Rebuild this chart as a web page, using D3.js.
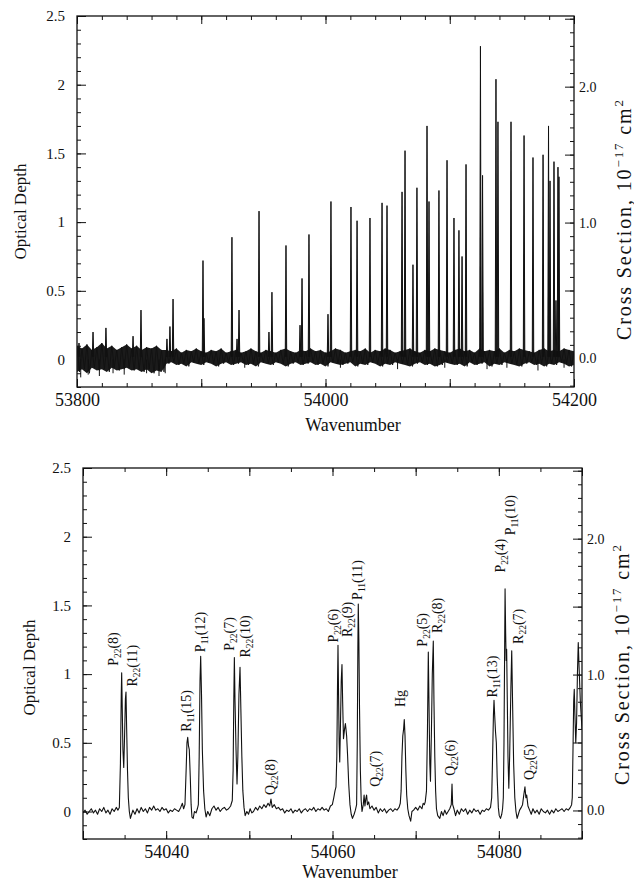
<!DOCTYPE html>
<html>
<head>
<meta charset="utf-8">
<script src="https://cdn.jsdelivr.net/npm/d3@7"></script>
<style>
  html, body { margin: 0; background: #fff; }
  svg { display: block; font-family: "Liberation Serif", "DejaVu Serif", serif; }
  .tick line { stroke: #111; stroke-width: 1; }
</style>
</head>
<body>
<svg id="fig" width="634" height="883"></svg>
<script>
// Absorption spectrum, two panels. (estimates).

// --- top panel: 53800-54200 survey, line peaks (wavenumber, optical depth) ---
const topLineWn = [53801.6, 53812.9, 53823.3, 53845.1, 53851.5, 53872.4, 53874.8, 53877.3,
  53901.4, 53902.2, 53924.7, 53928.8, 53930.4, 53946.5, 53954.5, 53956.9, 53968.2, 53979.5,
  53981.1, 53986.7, 54002.0, 54004.4, 54020.5, 54025.4, 54035.8, 54045.5, 54049.5, 54061.6,
  54064.0, 54070.4, 54073.6, 54081.7, 54083.3, 54091.3, 54097.8, 54103.4, 54107.4, 54109.9,
  54113.1, 54124.7, 54126.4, 54137.2, 54138.8, 54149.3, 54159.8, 54167.0, 54175.1, 54179.5,
  54180.7, 54183.9, 54185.5, 54187.1, 54187.9];
const topLineTau = [0.12, 0.20, 0.23, 0.17, 0.36, 0.15, 0.24, 0.44,
  0.72, 0.30, 0.89, 0.15, 0.36, 1.08, 0.20, 0.49, 0.83, 0.25,
  0.59, 0.91, 0.33, 1.15, 1.11, 1.01, 1.03, 1.14, 1.12, 1.22,
  1.52, 0.69, 1.25, 1.70, 1.15, 1.23, 1.45, 1.03, 0.94, 0.75,
  1.42, 2.28, 1.34, 2.04, 1.73, 1.73, 1.63, 1.47, 1.49, 1.70,
  1.30, 1.44, 0.43, 1.40, 1.33];

// baseline noise envelope of the top trace, sampled every 4 cm-1 from 53800
const topNoiseStart = 53800;
const topNoiseStep = 4;
const topNoiseHi = [0.10, 0.08, 0.11, 0.07, 0.09, 0.12, 0.08, 0.10, 0.07, 0.09, 0.11, 0.08, 0.10, 0.07, 0.09, 0.08, 0.10, 0.07,
  0.07, 0.06, 0.08, 0.05, 0.07, 0.06, 0.08, 0.06, 0.05, 0.07,
  0.06, 0.08, 0.05, 0.06, 0.07, 0.05, 0.06, 0.08, 0.06, 0.05,
  0.07, 0.06, 0.05, 0.07, 0.08, 0.06, 0.05, 0.07, 0.06, 0.08,
  0.06, 0.07, 0.05, 0.06, 0.08, 0.07, 0.05, 0.06, 0.07, 0.06,
  0.08, 0.05, 0.07, 0.06, 0.08, 0.07, 0.05, 0.06, 0.07, 0.08,
  0.06, 0.05, 0.07, 0.06, 0.08, 0.07, 0.06, 0.05, 0.07, 0.08,
  0.06, 0.07, 0.05, 0.08, 0.06, 0.07, 0.06, 0.08, 0.05, 0.07,
  0.06, 0.08, 0.07, 0.06, 0.05, 0.07, 0.08, 0.06, 0.07, 0.06,
  0.08, 0.07, 0.06];
const topNoiseLo = [-0.09, -0.07, -0.10, -0.06, -0.08, -0.07, -0.09, -0.06, -0.08, -0.07, -0.06, -0.08, -0.07, -0.09, -0.07, -0.10, -0.08, -0.09,
  -0.03, -0.02, -0.04, -0.03, -0.05, -0.02, -0.03, -0.04, -0.02, -0.03,
  -0.05, -0.03, -0.02, -0.04, -0.03, -0.02, -0.04, -0.03, -0.05, -0.02,
  -0.03, -0.04, -0.02, -0.03, -0.05, -0.03, -0.02, -0.04, -0.03, -0.02,
  -0.04, -0.03, -0.05, -0.02, -0.03, -0.04, -0.03, -0.02, -0.05, -0.03,
  -0.04, -0.02, -0.03, -0.05, -0.03, -0.04, -0.02, -0.03, -0.04, -0.05,
  -0.03, -0.02, -0.04, -0.03, -0.05, -0.04, -0.02, -0.03, -0.04, -0.03,
  -0.05, -0.02, -0.04, -0.03, -0.02, -0.05, -0.03, -0.04, -0.02, -0.03,
  -0.04, -0.05, -0.03, -0.02, -0.04, -0.03, -0.05, -0.03, -0.04, -0.02,
  -0.03, -0.05, -0.04];
// occasional downward noise spikes in the top trace
const topDipWn = [53803, 53809, 53818, 53829, 53838, 53856, 53866, 53871, 53935, 54012, 54058, 54096, 54130, 54146, 54171, 54192];
const topDipTau = [-0.13, -0.11, -0.12, -0.10, -0.11, -0.10, -0.12, -0.10, -0.06, -0.06, -0.07, -0.06, -0.07, -0.06, -0.08, -0.06];

// --- bottom panel: 54030-54090 detail, trace vertices [wavenumber, optical depth] ---
const botTrace = [
  [54030.00, -0.01], [54030.25, 0.01], [54030.50, -0.02], [54030.75, 0.00], [54031.00, 0.02], [54031.25, -0.01],
  [54031.50, 0.01], [54031.75, -0.02], [54032.00, 0.02], [54032.25, 0.00], [54032.50, 0.03], [54032.75, -0.01],
  [54033.00, 0.01], [54033.25, -0.02], [54033.50, 0.02], [54033.75, 0.00], [54034.00, 0.03], [54034.20, 0.01],
  [54034.37, 0.03], [54034.50, 0.35], [54034.60, 0.85], [54034.65, 1.01], [54034.72, 0.75], [54034.80, 0.45],
  [54034.90, 0.32], [54035.00, 0.55], [54035.10, 0.82], [54035.17, 0.87], [54035.25, 0.60], [54035.35, 0.30],
  [54035.45, 0.10], [54035.57, 0.00], [54035.70, -0.05], [54035.85, -0.02],
  [54036.00, 0.01], [54036.25, -0.02], [54036.50, 0.02], [54036.75, -0.01], [54037.00, 0.03], [54037.25, 0.00],
  [54037.50, 0.02], [54037.75, -0.01], [54038.00, 0.03], [54038.25, 0.01], [54038.50, 0.04], [54038.75, 0.01],
  [54039.00, 0.02], [54039.25, 0.00], [54039.50, 0.03], [54039.75, 0.01], [54040.00, 0.02], [54040.25, -0.01],
  [54040.50, 0.01], [54040.75, 0.00], [54041.00, 0.02], [54041.25, 0.01], [54041.50, 0.00], [54041.75, 0.03],
  [54041.95, 0.06], [54042.10, 0.02],
  [54042.26, 0.05], [54042.40, 0.30], [54042.50, 0.50], [54042.59, 0.54], [54042.68, 0.48], [54042.78, 0.45],
  [54042.90, 0.25], [54043.00, 0.05], [54043.10, -0.04], [54043.25, -0.05], [54043.40, 0.00], [54043.60, -0.01],
  [54043.75, 0.02],
  [54043.87, 0.05], [54043.97, 0.40], [54044.07, 0.95], [54044.15, 1.13], [54044.25, 0.85], [54044.35, 0.45],
  [54044.50, 0.15], [54044.65, 0.02], [54044.80, -0.04],
  [54045.00, 0.00], [54045.25, -0.03], [54045.50, 0.02], [54045.75, 0.04], [54046.00, 0.01], [54046.25, 0.03],
  [54046.50, 0.00], [54046.75, 0.02], [54047.00, 0.03], [54047.25, 0.01], [54047.50, 0.02], [54047.75, 0.04],
  [54047.95, 0.08],
  [54048.05, 0.30], [54048.13, 0.80], [54048.20, 1.12], [54048.28, 0.80], [54048.40, 0.45], [54048.52, 0.20],
  [54048.62, 0.40], [54048.75, 0.85], [54048.88, 1.05], [54048.98, 0.75], [54049.10, 0.40], [54049.22, 0.15],
  [54049.36, 0.03], [54049.50, -0.03], [54049.70, 0.00],
  [54049.90, -0.02], [54050.10, 0.02], [54050.30, -0.01], [54050.50, 0.00], [54050.75, 0.03], [54051.00, 0.01],
  [54051.25, 0.04], [54051.50, 0.02], [54051.75, 0.05], [54052.00, 0.03], [54052.25, 0.06], [54052.45, 0.04],
  [54052.60, 0.09], [54052.75, 0.03], [54053.00, 0.05], [54053.25, 0.02], [54053.50, 0.03], [54053.75, 0.01],
  [54054.00, 0.02], [54054.25, -0.01], [54054.50, 0.01], [54054.75, 0.00], [54055.00, 0.02], [54055.25, -0.01],
  [54055.50, 0.01], [54055.75, 0.00], [54056.00, 0.02], [54056.25, -0.01], [54056.50, 0.01], [54056.75, 0.02],
  [54057.00, 0.00], [54057.25, 0.02], [54057.50, 0.01], [54057.75, 0.03], [54058.00, 0.00], [54058.25, 0.02],
  [54058.50, 0.01], [54058.75, 0.03], [54059.00, 0.01], [54059.25, 0.02], [54059.50, 0.00], [54059.75, 0.04],
  [54059.98, 0.05],
  [54060.15, 0.10], [54060.30, 0.15], [54060.42, 0.18], [54060.52, 0.40], [54060.60, 0.90], [54060.66, 1.21],
  [54060.73, 0.85], [54060.80, 0.50], [54060.87, 0.36], [54060.95, 0.60], [54061.05, 0.95], [54061.14, 1.07],
  [54061.22, 0.80], [54061.32, 0.53], [54061.45, 0.60], [54061.55, 0.64], [54061.62, 0.60], [54061.70, 0.55],
  [54061.82, 0.40], [54061.95, 0.20], [54062.10, 0.05], [54062.25, -0.02], [54062.40, -0.05], [54062.60, -0.02],
  [54062.75, 0.01],
  [54062.90, 0.05], [54062.98, 0.50], [54063.05, 1.20], [54063.10, 1.51], [54063.17, 1.25], [54063.25, 0.75],
  [54063.35, 0.30], [54063.45, 0.08], [54063.55, 0.00], [54063.70, 0.05], [54063.80, 0.12], [54063.90, 0.04],
  [54064.00, 0.09], [54064.10, 0.12], [54064.20, 0.05], [54064.35, 0.07], [54064.50, 0.02], [54064.75, 0.04],
  [54065.00, 0.01], [54065.25, 0.03], [54065.50, -0.01], [54065.75, 0.02], [54066.00, 0.00], [54066.25, 0.02],
  [54066.50, -0.01], [54066.75, 0.01], [54067.00, 0.02], [54067.25, 0.00], [54067.50, 0.02], [54067.75, 0.01],
  [54068.00, 0.03], [54068.15, 0.06],
  [54068.25, 0.15], [54068.35, 0.40], [54068.45, 0.55], [54068.55, 0.60], [54068.63, 0.67], [54068.72, 0.55],
  [54068.82, 0.30], [54068.92, 0.12], [54069.05, 0.02], [54069.20, -0.03], [54069.40, -0.07], [54069.55, 0.00],
  [54069.75, 0.01], [54070.00, 0.03], [54070.25, 0.01], [54070.50, 0.04], [54070.75, 0.02], [54070.90, 0.06],
  [54071.05, 0.05], [54071.15, 0.07],
  [54071.30, 0.15], [54071.42, 0.60], [54071.52, 1.16], [54071.60, 0.80], [54071.70, 0.35], [54071.78, 0.22],
  [54071.90, 0.60], [54072.00, 1.00], [54072.12, 1.24], [54072.20, 0.80], [54072.30, 0.40], [54072.40, 0.15],
  [54072.50, 0.02], [54072.65, -0.03], [54072.90, -0.05], [54073.10, 0.00], [54073.30, -0.03], [54073.50, 0.01],
  [54073.70, -0.02], [54073.90, 0.00], [54074.10, 0.02], [54074.28, 0.05], [54074.37, 0.20], [54074.45, 0.05],
  [54074.60, 0.02], [54074.80, -0.03], [54075.00, 0.01], [54075.25, -0.02], [54075.50, 0.02], [54075.75, 0.00],
  [54076.00, 0.02], [54076.25, -0.02], [54076.50, 0.01], [54076.75, -0.01], [54077.00, 0.02], [54077.25, 0.00],
  [54077.50, 0.01], [54077.75, -0.02], [54078.00, 0.01], [54078.25, 0.00], [54078.50, 0.02], [54078.75, 0.01],
  [54079.00, 0.03],
  [54079.14, 0.10], [54079.25, 0.40], [54079.35, 0.70], [54079.42, 0.81], [54079.50, 0.70], [54079.60, 0.58],
  [54079.70, 0.50], [54079.80, 0.25], [54079.94, 0.03], [54080.05, -0.03], [54080.20, -0.05], [54080.35, -0.02],
  [54080.45, 0.02],
  [54080.54, 0.10], [54080.62, 0.50], [54080.70, 1.20], [54080.75, 1.62], [54080.82, 1.30], [54080.88, 1.10],
  [54080.94, 1.18], [54081.02, 0.80], [54081.10, 0.40], [54081.20, 0.17], [54081.30, 0.40], [54081.45, 0.90],
  [54081.55, 1.17], [54081.65, 0.80], [54081.78, 0.35], [54081.92, 0.10], [54082.06, 0.00], [54082.20, -0.05],
  [54082.35, -0.02], [54082.50, 0.01], [54082.70, 0.03], [54082.85, 0.05], [54083.00, 0.12], [54083.14, 0.18],
  [54083.25, 0.10], [54083.35, 0.12], [54083.50, 0.04], [54083.70, 0.01], [54083.90, -0.02], [54084.10, 0.02],
  [54084.35, -0.01], [54084.60, 0.01], [54084.85, -0.02], [54085.10, 0.02], [54085.35, 0.00], [54085.60, -0.01],
  [54085.85, 0.01], [54086.10, -0.02], [54086.35, 0.01], [54086.60, -0.01], [54086.85, 0.02], [54087.10, 0.00],
  [54087.35, 0.01], [54087.60, 0.02], [54087.85, 0.00], [54088.10, 0.02], [54088.35, 0.01], [54088.60, 0.03],
  [54088.75, 0.05],
  [54088.83, 0.10], [54088.93, 0.50], [54089.00, 0.80], [54089.07, 0.89], [54089.15, 0.70], [54089.25, 0.50],
  [54089.35, 0.65], [54089.45, 1.00], [54089.55, 1.23], [54089.65, 1.05], [54089.80, 0.80], [54089.90, 0.70],
  [54090.00, 0.60]
];

// line assignments in the bottom panel, placed at the foot of each label
const labelBranch = ["P", "R", "R", "P", "P", "R", "Q", "P", "R", "P", "Q", "Hg", "P", "R", "Q", "R", "P", "P", "R", "Q"];
const labelSub = ["22", "22", "11", "11", "22", "22", "22", "22", "22", "11", "22", "", "22", "22", "22", "11", "22", "11", "22", "22"];
const labelJ = ["8", "11", "15", "12", "7", "10", "8", "6", "9", "11", "7", "", "5", "8", "6", "13", "4", "10", "7", "5"];
const labelWn = [54033.6, 54035.9, 54042.4, 54044.1, 54047.55, 54049.5, 54052.5, 54060.05, 54061.75, 54062.95,
  54065.1, 54068.1, 54070.75, 54072.55, 54074.15, 54079.2, 54080.15, 54081.35, 54082.3, 54083.65];
const labelTau = [1.06, 0.91, 0.58, 1.16, 1.17, 1.12, 0.12, 1.23, 1.27, 1.54,
  0.18, 0.76, 1.20, 1.30, 0.26, 0.83, 1.74, 2.01, 1.22, 0.23];

// axes
const tauMajor = [0, 0.5, 1, 1.5, 2, 2.5];
const crossMajor = [0, 0.5, 1, 1.5, 2, 2.5];
const crossLabelled = [0, 1, 2];
const topWnMajor = [53800, 53900, 54000, 54100, 54200];
const topWnLabelled = [53800, 54000, 54200];
const botWnMajor = [54030, 54040, 54050, 54060, 54070, 54080, 54090];
const botWnLabelled = [54040, 54060, 54080];

(function () {
  "use strict";
  const svg = d3.select("#fig");
  const ink = "#111";
  const serif = '"Liberation Serif", "DejaVu Serif", serif';

  function frame(p) {
    const g = svg.append("g");
    const x = d3.scaleLinear().domain(p.xDomain).range([p.left, p.right]);
    const y = d3.scaleLinear().domain([-0.2, 2.5]).range([p.bottom, p.top]);
    const yR = d3.scaleLinear().domain([-0.21, 2.52]).range([p.bottom, p.top]);

    const clipId = "clip" + p.id;
    svg.append("clipPath").attr("id", clipId).append("rect")
      .attr("x", p.left).attr("y", p.top)
      .attr("width", p.right - p.left).attr("height", p.bottom - p.top);

    const fmtSet = (vals, fmt) => (d) => (vals.some((v) => Math.abs(v - d) < 1e-9) ? fmt(d) : "");
    const tickStyle = (sel, size) => {
      sel.select(".domain").remove();
      sel.attr("font-family", serif).attr("font-size", size);
      sel.selectAll("text").attr("fill", ink);
    };

    // left axis: optical depth
    g.append("g").attr("transform", `translate(${p.left},0)`)
      .call(d3.axisLeft(y).tickValues(d3.range(-0.2, 2.51, 0.1)).tickSize(-4).tickFormat(""))
      .call((s) => tickStyle(s, 15));
    g.append("g").attr("transform", `translate(${p.left},0)`)
      .call(d3.axisLeft(y).tickValues(tauMajor).tickSize(-9).tickPadding(12).tickFormat(d3.format("")))
      .call((s) => tickStyle(s, 15));

    // right axis: cross section
    g.append("g").attr("transform", `translate(${p.right},0)`)
      .call(d3.axisRight(yR).tickValues(d3.range(-0.2, 2.51, 0.1)).tickSize(-4).tickFormat(""))
      .call((s) => tickStyle(s, 14));
    g.append("g").attr("transform", `translate(${p.right},0)`)
      .call(d3.axisRight(yR).tickValues(crossMajor).tickSize(-9).tickPadding(5)
        .tickFormat(fmtSet(crossLabelled, d3.format(".1f"))))
      .call((s) => tickStyle(s, 14));

    // bottom and top edges: wavenumber
    const minor = d3.range(p.xDomain[0], p.xDomain[1] + 0.01, p.minorStep);
    g.append("g").attr("transform", `translate(0,${p.bottom})`)
      .call(d3.axisBottom(x).tickValues(minor).tickSize(-4).tickFormat(""))
      .call((s) => tickStyle(s, 18));
    g.append("g").attr("transform", `translate(0,${p.bottom})`)
      .call(d3.axisBottom(x).tickValues(p.xMajor).tickSize(-8).tickPadding(6)
        .tickFormat(fmtSet(p.xLabelled, d3.format("d"))))
      .call((s) => tickStyle(s, 18));
    g.append("g").attr("transform", `translate(0,${p.top})`)
      .call(d3.axisTop(x).tickValues(minor).tickSize(-4).tickFormat(""))
      .call((s) => tickStyle(s, 18));
    g.append("g").attr("transform", `translate(0,${p.top})`)
      .call(d3.axisTop(x).tickValues(p.xMajor).tickSize(-8).tickFormat(""))
      .call((s) => tickStyle(s, 18));

    g.append("rect")
      .attr("x", p.left).attr("y", p.top)
      .attr("width", p.right - p.left).attr("height", p.bottom - p.top)
      .attr("fill", "none").attr("stroke", ink).attr("stroke-width", 1.3);

    // axis titles
    g.append("text")
      .attr("transform", `translate(${p.yTitleX},${(p.top + p.bottom) / 2 + p.yTitleShift}) rotate(-90)`)
      .attr("text-anchor", "middle").attr("dy", "0.35em")
      .style("font-size", "17px").attr("fill", ink).text("Optical Depth");

    const rt = g.append("text")
      .attr("transform", `translate(${p.rTitleX},${p.rTitleY}) rotate(-90)`)
      .attr("text-anchor", "middle").attr("dy", "0.35em")
      .attr("textLength", 240).attr("lengthAdjust", "spacing")
      .style("font-size", "20px").attr("fill", ink);
    rt.append("tspan").text("Cross Section, 10");
    rt.append("tspan").attr("dy", -8).style("font-size", "13px").text("\u221217");
    rt.append("tspan").attr("dy", 8).text(" cm");
    rt.append("tspan").attr("dy", -8).style("font-size", "13px").text("2");

    g.append("text")
      .attr("x", p.xTitleX).attr("y", p.bottom + p.xTitleDrop)
      .attr("text-anchor", "middle").style("font-size", "18px").attr("fill", ink)
      .text("Wavenumber");

    const plot = svg.append("g").attr("clip-path", `url(#${clipId})`);
    return { x, y, plot };
  }

  // ---------- top panel ----------
  const T = frame({
    id: "T", left: 77, right: 574, top: 16, bottom: 387,
    xDomain: [53800, 54200], xMajor: topWnMajor, xLabelled: topWnLabelled, minorStep: 20,
    yTitleX: 20, yTitleShift: 10, rTitleX: 624, rTitleY: 220, xTitleX: 353, xTitleDrop: 44,
  });
  const n = Math.min(topNoiseHi.length, topNoiseLo.length);
  const noise = d3.range(n).map((i) => ({
    wn: topNoiseStart + i * topNoiseStep, hi: topNoiseHi[i], lo: topNoiseLo[i],
  }));
  T.plot.append("path").datum(noise)
    .attr("d", d3.area().x((d) => T.x(d.wn)).y0((d) => T.y(d.lo)).y1((d) => T.y(d.hi)))
    .attr("fill", "#1b1b1b");
  // zig-zag between envelope samples gives the ragged edge of the noise band
  const zig = noise.flatMap((d) => [[d.wn, d.hi], [d.wn + topNoiseStep / 2, d.lo]]);
  T.plot.append("path").datum(zig)
    .attr("d", d3.line().x((d) => T.x(d[0])).y((d) => T.y(d[1])))
    .attr("fill", "none").attr("stroke", ink).attr("stroke-width", 0.9);
  T.plot.selectAll("line.dip").data(topDipWn).enter().append("line")
    .attr("x1", (d) => T.x(d)).attr("x2", (d) => T.x(d))
    .attr("y1", T.y(0)).attr("y2", (d, i) => T.y(topDipTau[i]))
    .attr("stroke", ink).attr("stroke-width", 1);
  const spike = d3.line().x((d) => T.x(d[0])).y((d) => T.y(d[1]));
  T.plot.selectAll("path.line").data(topLineWn).enter().append("path")
    .attr("d", (d, i) => spike([[d - 0.6, 0.02], [d, topLineTau[i]], [d + 0.6, 0.02]]))
    .attr("fill", ink).attr("stroke", ink).attr("stroke-width", 1);

  // ---------- bottom panel ----------
  const B = frame({
    id: "B", left: 83, right: 582, top: 468, bottom: 839,
    xDomain: [54030, 54090], xMajor: botWnMajor, xLabelled: botWnLabelled, minorStep: 5,
    yTitleX: 29, yTitleShift: 14, rTitleX: 622, rTitleY: 665, xTitleX: 350, xTitleDrop: 39,
  });
  B.plot.append("path").datum(botTrace)
    .attr("d", d3.line().x((d) => B.x(d[0])).y((d) => B.y(d[1])))
    .attr("fill", "none").attr("stroke", ink).attr("stroke-width", 1.1).attr("stroke-linejoin", "round");

  const lab = svg.append("g").attr("fill", ink).style("font-size", "14px");
  labelWn.forEach((wn, i) => {
    const t = lab.append("text")
      .attr("transform", `translate(${B.x(wn)},${B.y(labelTau[i])}) rotate(-90)`)
      .attr("dy", "0.35em").attr("text-anchor", "start");
    t.append("tspan").text(labelBranch[i]);
    if (labelSub[i]) {
      t.append("tspan").attr("dy", 3).style("font-size", "9.5px").text(labelSub[i]);
      t.append("tspan").attr("dy", -3).text("(" + labelJ[i] + ")");
    }
  });
})();
</script>
</body>
</html>
